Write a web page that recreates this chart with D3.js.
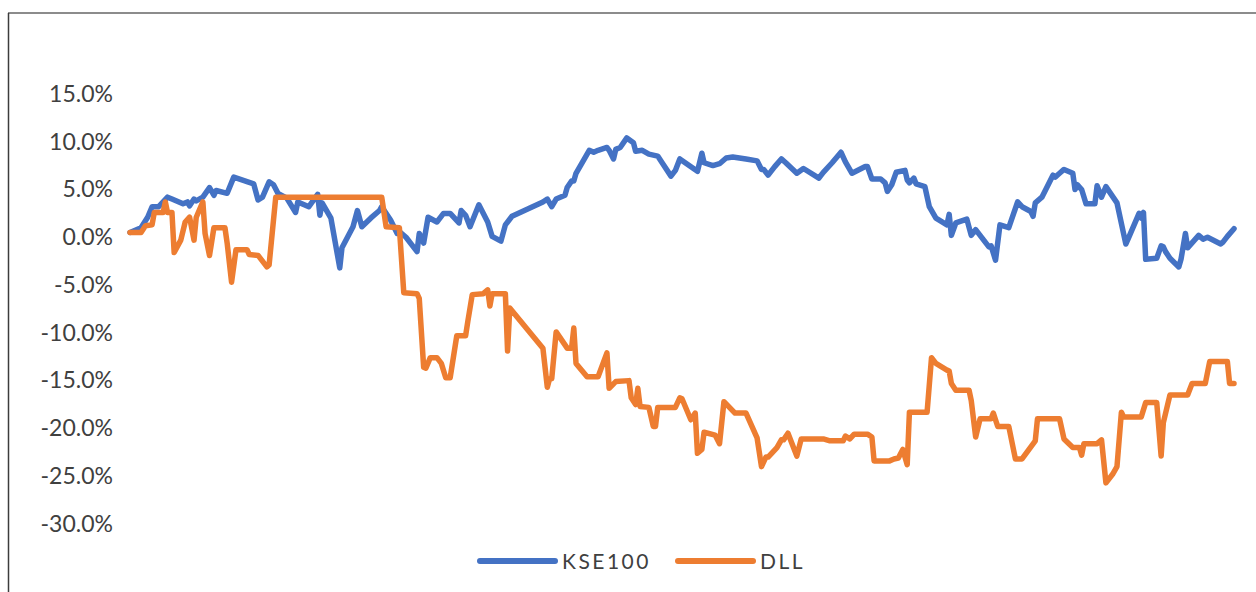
<!DOCTYPE html>
<html>
<head>
<meta charset="utf-8">
<script src="https://cdn.jsdelivr.net/npm/d3@7"></script>
<style>
  html, body { margin: 0; padding: 0; background: #fff; }
  svg { display: block; }
</style>
</head>
<body>
<svg id="chart" width="1256" height="592"></svg>
<script>
// ---- Data (period index t on a 0..500 scale, values in %) ----
const seriesNames = ["KSE100", "DLL"];
const seriesColors = ["#4472C4", "#ED7D31"];
const yTicks = [15, 10, 5, 0, -5, -10, -15, -20, -25, -30];

const kseT = [0,5,8,10,13,15,17,19,24,26,27,29,30,33,36,38,39,44,47,56,58,60,63,65,67,71,75,76,81,85,86,87,91,95,96,101,103,105,109,113,114,118,121,122,125,130,131,133,135,139,142,145,149,150,152,154,158,162,164,168,170,173,187,189,191,193,197,198,200,201,202,208,210,212,216,217,219,220,222,225,228,229,232,235,239,241,245,247,249,257,259,260,264,267,270,273,279,284,286,287,289,292,295,297,302,305,312,314,318,322,324,327,333,334,336,340,342,343,345,347,351,352,353,355,356,360,362,365,370,371,372,374,379,381,383,389,390,392,394,398,402,404,408,409,410,413,418,419,421,423,427,428,429,431,433,437,438,440,442,447,451,452,457,458,459,460,465,467,468,469,471,475,476,478,479,484,486,488,494,495,497,500];
const kseV = [0.4,0.9,2.0,3.1,3.1,3.6,4.1,3.9,3.4,3.6,3.2,3.9,3.7,4.1,5.1,4.3,4.8,4.5,6.2,5.5,3.8,4.1,5.7,5.4,4.5,4.0,2.5,3.6,3.1,4.4,2.2,3.5,1.9,-3.3,-1.2,1.0,2.7,1.0,1.9,2.7,3.1,1.7,0.3,0.5,-0.1,-1.6,0.3,-0.7,2.0,1.5,2.4,2.4,1.4,2.7,2.2,1.0,3.3,1.5,0.0,-0.5,1.2,2.1,3.6,3.9,3.1,3.9,4.3,5.1,5.8,5.8,6.6,9.0,8.8,9.0,9.3,9.0,8.1,9.1,9.3,10.3,9.8,8.9,9.0,8.6,8.4,7.7,6.3,6.9,8.1,6.8,8.7,7.7,7.4,7.6,8.2,8.3,8.1,7.9,7.0,7.0,6.4,7.3,8.1,7.7,6.6,7.1,6.1,6.7,7.7,8.8,7.8,6.6,7.3,7.3,6.0,6.0,5.6,4.7,5.4,6.7,6.9,5.9,5.6,6.1,5.5,5.2,3.1,1.9,1.2,2.3,0.1,1.4,1.8,0.1,0.7,-1.1,-1.0,-2.5,1.2,0.9,3.6,3.1,2.6,2.1,3.5,4.1,6.4,6.2,6.6,7.0,6.6,4.9,5.4,4.9,3.4,3.4,5.3,4.1,5.2,3.5,-0.8,-0.3,2.4,1.9,2.5,-2.4,-2.3,-1.0,-1.1,-1.6,-2.3,-3.2,-2.4,0.3,-1.2,0.1,-0.3,-0.1,-0.8,-0.6,0.0,0.8];

const dllT = [0,5,7,10,11,15,16,17,19,20,23,25,27,29,30,33,34,36,38,43,44,46,48,53,54,58,62,63,66,67,114,116,122,124,130,131,133,134,136,139,141,143,145,148,152,153,155,160,162,163,164,170,171,172,187,189,190,191,193,198,200,201,202,207,212,216,217,220,226,227,229,230,231,235,237,238,239,247,249,250,254,256,257,259,260,265,267,269,274,279,284,286,288,289,293,295,296,298,302,304,314,317,323,324,326,328,334,336,337,344,346,348,350,352,353,361,363,365,370,371,372,374,380,381,383,385,390,391,393,398,401,404,410,411,421,423,427,430,431,432,438,440,442,445,447,449,450,458,460,465,467,468,471,479,481,487,489,497,498,500];
const dllV = [0.4,0.4,1.1,1.2,2.5,2.5,3.6,2.5,2.5,-1.7,-0.4,1.5,2.0,-0.4,2.0,3.6,0.3,-2.0,0.9,0.9,-0.7,-4.8,-1.4,-1.4,-1.9,-2.0,-3.2,-3.0,4.1,4.1,4.1,1.0,0.9,-5.9,-6.0,-6.5,-13.7,-13.8,-12.7,-12.7,-13.3,-14.8,-14.8,-10.4,-10.4,-8.9,-6.1,-6.0,-5.6,-7.3,-6.0,-6.0,-12.0,-7.5,-11.7,-15.8,-14.9,-14.9,-10.0,-11.7,-11.7,-9.6,-13.3,-14.7,-14.7,-12.2,-15.9,-15.2,-15.1,-16.9,-17.6,-15.9,-17.8,-17.9,-19.9,-19.9,-17.9,-17.9,-16.9,-17.0,-19.2,-18.5,-22.7,-22.3,-20.5,-20.8,-21.7,-17.3,-18.5,-18.5,-21.1,-24.1,-23.1,-23.1,-22.1,-21.3,-21.3,-20.6,-23.0,-21.2,-21.2,-21.4,-21.4,-20.9,-21.2,-20.7,-20.7,-21.0,-23.5,-23.5,-23.3,-23.2,-22.3,-23.9,-18.4,-18.4,-12.7,-13.3,-14.0,-14.1,-15.4,-16.1,-16.1,-17.2,-21.0,-19.1,-19.1,-18.5,-19.9,-19.9,-23.3,-23.3,-21.4,-19.1,-19.1,-21.2,-22.1,-22.1,-22.9,-21.7,-21.7,-21.3,-25.8,-24.9,-24.1,-18.4,-18.9,-18.9,-17.4,-17.4,-23.0,-19.5,-16.6,-16.6,-15.4,-15.4,-13.1,-13.1,-15.4,-15.4];

const series = [
  { name: seriesNames[0], color: seriesColors[0], pts: kseT.map((t, i) => ({ t, v: kseV[i] })) },
  { name: seriesNames[1], color: seriesColors[1], pts: dllT.map((t, i) => ({ t, v: dllV[i] })) }
];

// ---- Drawing ----
const svg = d3.select("#chart");
const FONT = "'Century Gothic', Lato, 'Liberation Sans', sans-serif";

// frame (top and left edges visible)
svg.append("line").attr("x1", 8).attr("x2", 1256).attr("y1", 13).attr("y2", 13)
  .attr("stroke", "#8c8c8c").attr("stroke-width", 2);
svg.append("line").attr("x1", 8.5).attr("x2", 8.5).attr("y1", 13).attr("y2", 592)
  .attr("stroke", "#3c3c3c").attr("stroke-width", 1.5);

const x = d3.scaleLinear().domain([0, 500]).range([130, 1234]);
const y = d3.scaleLinear().domain([-30, 15]).range([523, 93]);

const yAxis = d3.axisLeft(y).tickValues(yTicks).tickSize(0).tickPadding(0)
  .tickFormat(d => d.toFixed(1) + "%");
const gy = svg.append("g").attr("transform", "translate(113,0)").call(yAxis);
gy.select(".domain").remove();
gy.selectAll("text")
  .attr("font-family", FONT).attr("font-size", 23).attr("fill", "#404040")
  .attr("dy", "0.36em");

const line = d3.line().x(d => x(d.t)).y(d => y(d.v));
svg.selectAll("path.series").data(series).join("path")
  .attr("class", "series")
  .attr("d", d => line(d.pts))
  .attr("fill", "none")
  .attr("stroke", d => d.color)
  .attr("stroke-width", 5.5)
  .attr("stroke-linejoin", "round")
  .attr("stroke-linecap", "round");

// legend
const legendX = [480, 678];
const lg = svg.selectAll("g.legend").data(series).join("g")
  .attr("class", "legend")
  .attr("transform", (d, i) => `translate(${legendX[i]},561)`);
lg.append("line").attr("x1", 0).attr("x2", 75).attr("y1", 0).attr("y2", 0)
  .attr("stroke", d => d.color).attr("stroke-width", 6).attr("stroke-linecap", "round");
lg.append("text").attr("x", 82).attr("y", 0).attr("dy", "0.36em")
  .attr("font-family", FONT).attr("font-size", 21).attr("letter-spacing", "2.5px")
  .attr("fill", "#404040").text(d => d.name);
</script>
</body>
</html>
